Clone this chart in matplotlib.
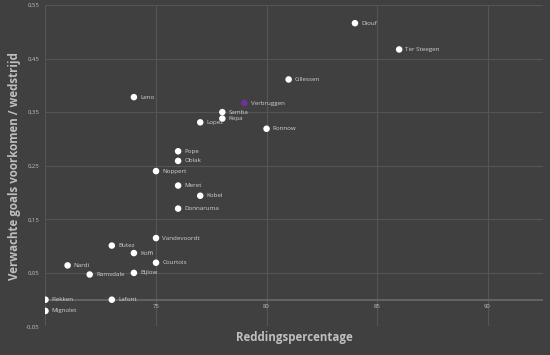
import matplotlib.pyplot as plt

plt.rcParams['font.family'] = ['Open Sans', 'DejaVu Sans']

# data
keepers = ['Diouf', 'Ter Steegen', 'Cillessen', 'Leno', 'Verbruggen', 'Samba', 'Kepa',
           'Lopez', 'Ronnow', 'Pope', 'Oblak', 'Noppert', 'Meret', 'Kobel', 'Donnaruma',
           'Vandevoordt', 'Butez', 'Koffi', 'Courtois', 'Nardi', 'Ramsdale', 'Bijlow',
           'Flekken', 'Lafont', 'Mignolet']
save_pct = [84, 86, 81, 74, 79, 78, 78,
            77, 80, 76, 76, 75, 76, 77, 76,
            75, 73, 74, 75, 71, 72, 74,
            70, 73, 70]
xg_prevented = [0.516, 0.467, 0.411, 0.378, 0.367, 0.350, 0.338,
                0.331, 0.319, 0.277, 0.259, 0.240, 0.213, 0.194, 0.170,
                0.115, 0.101, 0.087, 0.069, 0.064, 0.047, 0.050,
                0.000, 0.000, -0.021]
highlight = 'Verbruggen'

x_ticks = [75, 80, 85, 90]
y_ticks = [-0.05, 0.05, 0.15, 0.25, 0.35, 0.45, 0.55]

bg = '#404040'
grid_c = '#555555'
txt = '#bfbfbf'

fig = plt.figure(figsize=(5.5, 3.55), dpi=100, facecolor=bg)
ax = fig.add_axes([0.0827, 0.0803, 0.9043, 0.9057], facecolor=bg)

ax.set_xlim(70, 92.5)
ax.set_ylim(-0.05, 0.55)

for x in x_ticks:
    ax.axvline(x, color=grid_c, lw=0.8, zorder=1)
for y in y_ticks:
    ax.axhline(y, color=grid_c, lw=0.8, zorder=1)
ax.axhline(0, color='#666666', lw=1.3, zorder=1)
ax.axvline(70, color=grid_c, lw=0.8, zorder=1)

for s in ax.spines.values():
    s.set_visible(False)

ax.set_yticks(y_ticks)
ax.set_yticklabels([('%.2f' % v).replace('.', ',') for v in y_ticks])
ax.set_xticks([])
for x in x_ticks:
    ax.text(x, -0.008, str(x), color=txt, fontsize=4.3, ha='center', va='top', zorder=2)
ax.tick_params(axis='y', length=0, pad=4.5, labelsize=4.3, labelcolor=txt)

for name, x, y in zip(keepers, save_pct, xg_prevented):
    c = '#7030a0' if name == highlight else 'white'
    ax.scatter(x, y, s=22, color=c, edgecolors='none', zorder=3)
    ax.annotate(name, (x, y), xytext=(4.5, 0), textcoords='offset points',
                color='#d0d0d0', fontsize=4.5, va='center', ha='left', zorder=4)

fig.text(0.535, 0.05, 'Reddingspercentage', color=txt, fontsize=8.3, fontweight='bold',
         ha='center', va='center')
fig.text(0.027, 0.532, 'Verwachte goals voorkomen / wedstrijd', color=txt, fontsize=8.3,
         fontweight='bold', rotation=90, ha='center', va='center')

fig.savefig('out.png', dpi=100, facecolor=bg)
